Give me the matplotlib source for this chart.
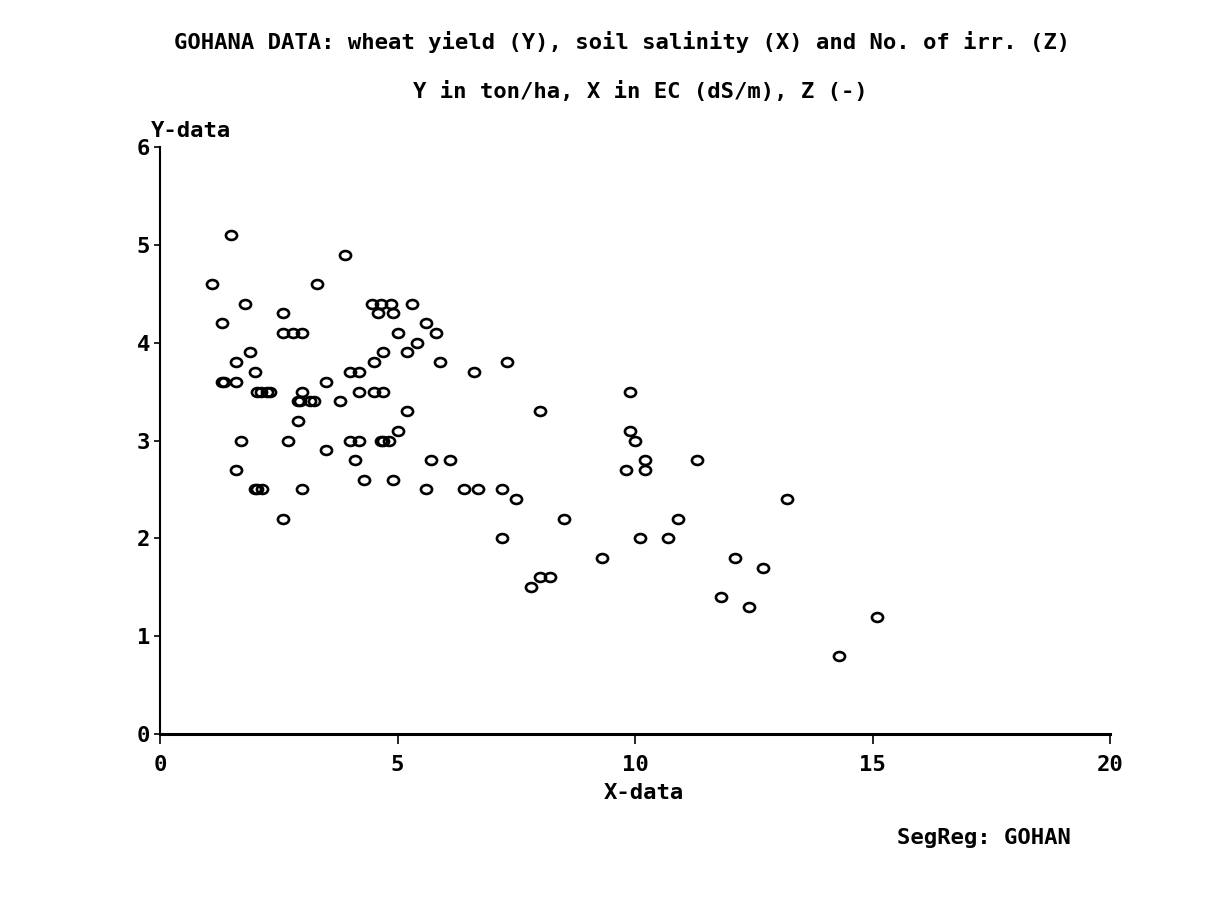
import matplotlib.pyplot as plt
from matplotlib.path import Path
from matplotlib.transforms import Affine2D

# Gohana data: salinity EC (x) and wheat yield (y)
x_ec = [1.5, 1.1, 3.3, 1.8, 2.6, 1.3, 2.6, 2.8, 3.0, 1.9,
        1.6, 2.0, 3.5, 1.3, 1.35, 1.6, 2.05, 2.12, 2.25, 2.32,
        3.0, 2.9, 2.95, 3.15, 3.25, 3.8, 2.9, 1.7, 2.7, 3.5,
        1.6, 2.0, 2.05, 2.15, 3.0, 2.6,
        3.9, 4.47, 4.65, 4.86, 5.3, 4.6, 4.9, 5.6, 5.8, 5.0,
        5.4, 4.7, 5.2, 4.5, 5.9, 7.3, 4.0, 4.2, 6.6, 4.2,
        4.5, 4.7, 5.2, 5.0, 4.0, 4.2, 4.65, 4.7, 4.82, 4.1,
        5.7, 6.1, 4.3, 4.9, 5.6, 6.4, 6.7, 7.2, 7.5,
        9.9, 8.0, 9.9, 10.0, 10.2, 11.3, 9.8, 10.2, 8.5, 10.9,
        7.2, 10.1, 10.7, 9.3, 12.1, 8.0, 8.2, 7.8, 11.8, 15.1,
        14.3, 13.2, 12.4, 12.7]
y_yield = [5.1, 4.6, 4.6, 4.4, 4.3, 4.2, 4.1, 4.1, 4.1, 3.9,
           3.8, 3.7, 3.6, 3.6, 3.6, 3.6, 3.5, 3.5, 3.5, 3.5,
           3.5, 3.4, 3.4, 3.4, 3.4, 3.4, 3.2, 3.0, 3.0, 2.9,
           2.7, 2.5, 2.5, 2.5, 2.5, 2.2,
           4.9, 4.4, 4.4, 4.4, 4.4, 4.3, 4.3, 4.2, 4.1, 4.1,
           4.0, 3.9, 3.9, 3.8, 3.8, 3.8, 3.7, 3.7, 3.7, 3.5,
           3.5, 3.5, 3.3, 3.1, 3.0, 3.0, 3.0, 3.0, 3.0, 2.8,
           2.8, 2.8, 2.6, 2.6, 2.5, 2.5, 2.5, 2.5, 2.4,
           3.5, 3.3, 3.1, 3.0, 2.8, 2.8, 2.7, 2.7, 2.2, 2.2,
           2.0, 2.0, 2.0, 1.8, 1.8, 1.6, 1.6, 1.5, 1.4, 1.2,
           0.8, 2.4, 1.3, 1.7]

x_ticks = [0, 5, 10, 15, 20]
y_ticks = [0, 1, 2, 3, 4, 5, 6]

FONT = 'DejaVu Sans Mono'
FS = 16
FW = 'bold'

# open circle, a bit flattened like the old screen marker
flat_o = Path.unit_circle().transformed(Affine2D().scale(1.0, 0.8))

fig = plt.figure(figsize=(12.13, 9.09), dpi=100)
ax = fig.add_axes([0.1319, 0.1925, 0.7832, 0.6458])

ax.plot(x_ec, y_yield, linestyle='none', marker=flat_o, markersize=8.0,
        markerfacecolor='none', markeredgecolor='black', markeredgewidth=1.9)

ax.set_xlim(0, 20)
ax.set_ylim(0, 6)
ax.set_xticks(x_ticks)
ax.set_yticks(y_ticks)
ax.set_xticklabels([str(t) for t in x_ticks], family=FONT, fontsize=FS, fontweight=FW)
ax.set_yticklabels([str(t) for t in y_ticks], family=FONT, fontsize=FS, fontweight=FW)
ax.tick_params(axis='x', length=7, width=1.2, pad=8)
ax.tick_params(axis='y', length=4, width=1.2, pad=3)

for s in ['top', 'right']:
    ax.spines[s].set_visible(False)
ax.spines['left'].set_linewidth(1.5)
ax.spines['bottom'].set_linewidth(2.2)

fig.text(0.513, 0.954, 'GOHANA DATA: wheat yield (Y), soil salinity (X) and No. of irr. (Z)',
         ha='center', va='center', family=FONT, fontsize=FS, fontweight=FW)
fig.text(0.528, 0.899, 'Y in ton/ha, X in EC (dS/m), Z (-)',
         ha='center', va='center', family=FONT, fontsize=FS, fontweight=FW)
fig.text(0.1245, 0.856, 'Y-data', ha='left', va='center', family=FONT, fontsize=FS, fontweight=FW)
fig.text(0.531, 0.128, 'X-data', ha='center', va='center', family=FONT, fontsize=FS, fontweight=FW)
fig.text(0.811, 0.078, 'SegReg: GOHAN', ha='center', va='center', family=FONT, fontsize=FS, fontweight=FW)

fig.savefig('out.png', dpi=100)
